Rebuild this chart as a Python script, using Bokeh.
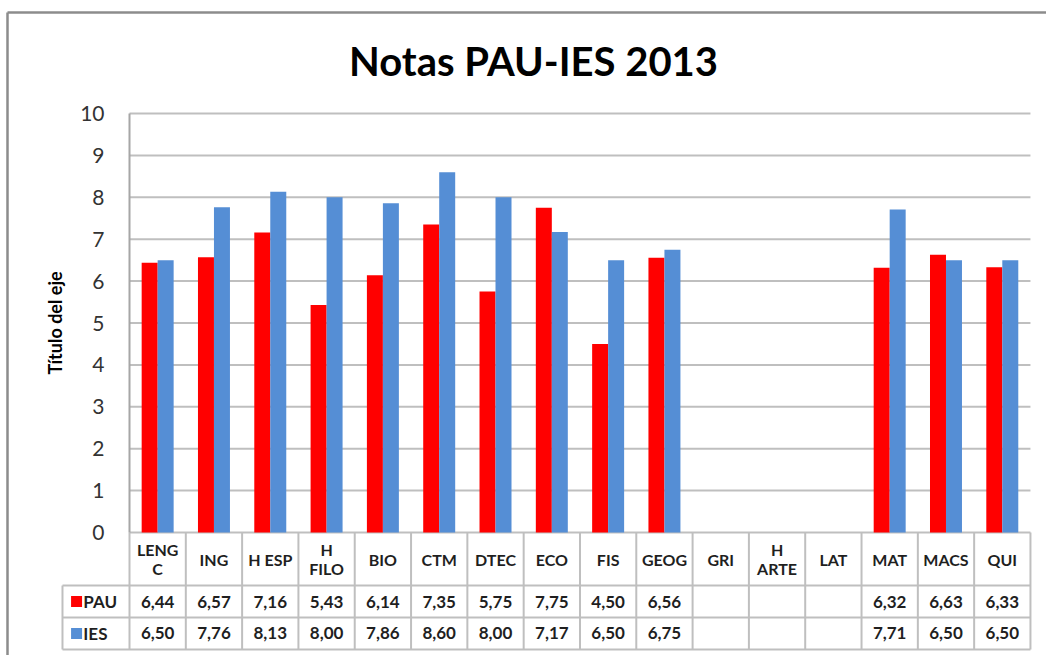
import math
from bokeh.plotting import figure
from bokeh.models import ColumnDataSource, FixedTicker, Range1d
from bokeh.transform import dodge
from bokeh.core.properties import value
from bokeh.embed import file_html
from bokeh.resources import INLINE

# ---------------- data ----------------
categories = ["LENG\nC", "ING", "H ESP", "H\nFILO", "BIO", "CTM", "DTEC", "ECO",
              "FIS", "GEOG", "GRI", "H\nARTE", "LAT", "MAT", "MACS", "QUI"]
pau = [6.44, 6.57, 7.16, 5.43, 6.14, 7.35, 5.75, 7.75, 4.50, 6.56,
       None, None, None, 6.32, 6.63, 6.33]
ies = [6.50, 7.76, 8.13, 8.00, 7.86, 8.60, 8.00, 7.17, 6.50, 6.75,
       None, None, None, 7.71, 6.50, 6.50]
series_names = ["PAU", "IES"]
series_colors = ["#FF0000", "#558ED5"]
y_ticks = list(range(0, 11))
chart_title = "Notas PAU-IES 2013"
y_title = "Título del eje"

# ---------------- layout constants ----------------
FONT = "Lato"
TEXT_COL = "#1f1f1f"
LINE_COL = "#bfbfbf"
n = len(categories)
header_bottom = -1.265
row_bottoms = [-2.029, -2.792]
legend_left = -1.19
bar_w = 0.284
X_START, X_END = -2.2909, 16.285
Y_START, Y_END = -2.9356, 12.697
border_x, border_y = -2.1666, 12.41
title_x, title_y = 7.175, 11.265

def fmt(v):
    return "" if v is None else f"{v:.2f}".replace(".", ",")

idx = [i + 0.5 for i in range(n)]
src = ColumnDataSource(dict(
    x=idx,
    pau=[math.nan if v is None else v for v in pau],
    ies=[math.nan if v is None else v for v in ies],
    cat=categories,
    pau_txt=[fmt(v) for v in pau],
    ies_txt=[fmt(v) for v in ies],
))

p = figure(width=1046, height=655, output_backend="svg", toolbar_location=None,
           x_range=Range1d(X_START, X_END), y_range=Range1d(Y_START, Y_END),
           x_axis_location=None, min_border=0)
p.outline_line_color = None
p.xgrid.visible = False
p.ygrid.visible = False
p.background_fill_color = "white"
p.border_fill_color = "white"

# outer chart border (left and top edges visible)
p.segment(x0=[border_x, border_x], x1=[X_END + 1, border_x],
          y0=[border_y, border_y], y1=[border_y, Y_START - 1],
          line_color="#8c8c8c", line_width=2.5)

# chart title
p.text(x=[title_x], y=[title_y], text=[chart_title], text_align="center",
       text_baseline="alphabetic", text_font=value(FONT), text_font_size="40px",
       text_font_style="bold", text_color="black")

# gridlines (value axis) across the plot area
p.segment(x0=[0] * len(y_ticks), x1=[n] * len(y_ticks), y0=y_ticks, y1=y_ticks,
          line_color=LINE_COL, line_width=2)

# bars
p.vbar(x=dodge("x", -bar_w / 2, range=p.x_range), top="pau", width=bar_w, bottom=0,
       source=src, fill_color=series_colors[0], line_color=None)
p.vbar(x=dodge("x", bar_w / 2, range=p.x_range), top="ies", width=bar_w, bottom=0,
       source=src, fill_color=series_colors[1], line_color=None)

# data table lines
hy = [header_bottom] + row_bottoms
p.segment(x0=[legend_left] * len(hy), x1=[n] * len(hy), y0=hy, y1=hy,
          line_color=LINE_COL, line_width=2)
p.segment(x0=list(range(0, n + 1)), x1=list(range(0, n + 1)),
          y0=[0] * (n + 1), y1=[row_bottoms[-1]] * (n + 1),
          line_color=LINE_COL, line_width=2)
p.segment(x0=[legend_left], x1=[legend_left], y0=[header_bottom], y1=[row_bottoms[-1]],
          line_color=LINE_COL, line_width=2)

# header labels
p.text(x="x", y=header_bottom / 2, text="cat", source=src, text_align="center",
       text_baseline="middle", text_font=value(FONT), text_font_size="16px",
       text_font_style="bold", text_color=TEXT_COL, text_line_height=1.05)

row_centers = [(header_bottom + row_bottoms[0]) / 2, (row_bottoms[0] + row_bottoms[1]) / 2]
for rc, col in zip(row_centers, ["pau_txt", "ies_txt"]):
    p.text(x="x", y=rc, text=col, source=src, text_align="center",
           text_baseline="middle", text_font=value(FONT), text_font_size="17px",
           text_font_style="bold", text_color=TEXT_COL)

# legend keys in table
p.scatter(x=[legend_left + 0.25] * 2, y=row_centers, marker="square", size=11,
          fill_color=series_colors, line_color=None)
p.text(x=[legend_left + 0.37] * 2, y=row_centers, text=series_names, text_align="left",
       text_baseline="middle", text_font=value(FONT), text_font_size="17px",
       text_font_style="bold", text_color=TEXT_COL)

# value axis
ax = p.yaxis[0]
ax.fixed_location = 0
ax.bounds = (0, 10)
ax.ticker = FixedTicker(ticks=y_ticks)
ax.axis_line_color = "#a6a6a6"
ax.axis_line_width = 2
ax.major_tick_out = 0
ax.major_tick_in = 0
ax.minor_tick_out = 0
ax.minor_tick_in = 0
ax.major_label_standoff = 25
ax.major_label_text_font = FONT
ax.major_label_text_font_size = "21px"
ax.major_label_text_color = "#333333"
ax.axis_label = y_title
ax.axis_label_text_font = FONT
ax.axis_label_text_font_size = "18px"
ax.axis_label_text_font_style = "bold"
ax.axis_label_text_color = "black"
ax.axis_label_standoff = 11

open("out.html", "w").write(file_html(p, INLINE))
